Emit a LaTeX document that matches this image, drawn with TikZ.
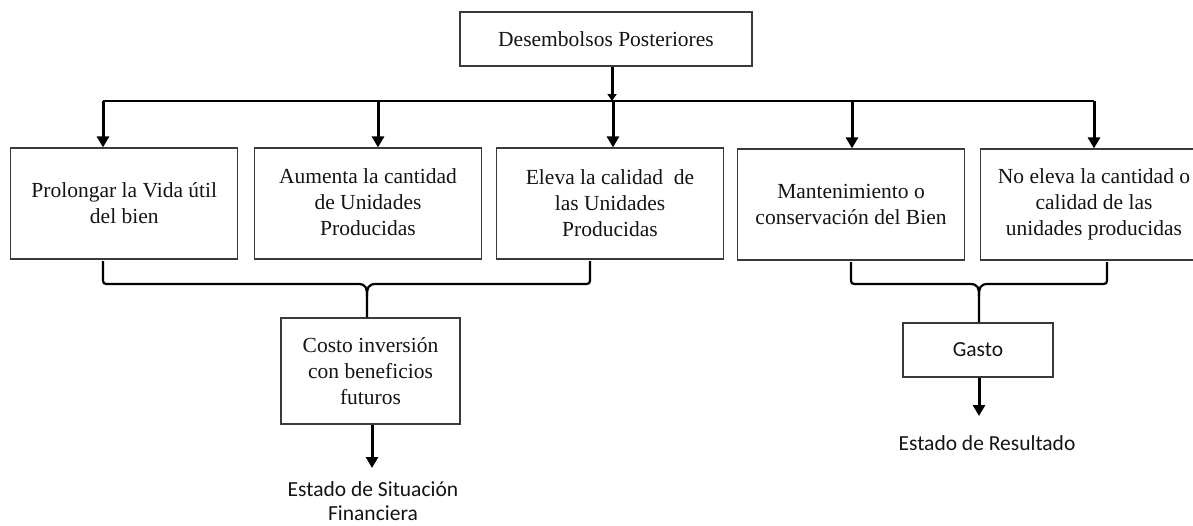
\documentclass[tikz,border=0pt]{standalone}
\usepackage{fontspec}
\setmainfont{Liberation Serif}
\newfontfamily\labelfont{Carlito}
\usetikzlibrary{arrows.meta}
\definecolor{boxgray}{HTML}{3A3A3A}
\definecolor{txt}{HTML}{141414}
\begin{document}
\begin{tikzpicture}[x=1pt,y=-1pt,
  box/.style={draw=boxgray, line width=1.2pt, minimum width=227pt, minimum height=111pt,
    inner sep=0pt, align=center, text=txt, font=\fontsize{21.5}{26}\selectfont},
  lbl/.style={inner sep=0pt, align=center, text=txt, font=\labelfont\fontsize{21.5}{24}\selectfont},
  arr/.style={line width=3pt, -{Triangle[width=12pt,length=11pt]}},
  bus/.style={line width=2.2pt},
  brace/.style={line width=2.2pt}]
\useasboundingbox (0,0) rectangle (1193,525);

% boxes
\node[box, minimum width=292pt, minimum height=54pt] (top) at (606,39) {Desembolsos Posteriores};
\node[box] (b1) at (124.3,203.5) {Prolongar la Vida útil\\del bien};
\node[box] (b2) at (368,203.5) {\raisebox{0pt}[0pt][0pt]{}\\[-14pt]Aumenta la cantidad\\de Unidades\\Producidas};
\node[box] (b3) at (610,203.5) {Eleva la calidad\ \ de\\las Unidades\\Producidas};
\node[box] (b4) at (851,204.5) {Mantenimiento o\\conservación del Bien};
\node[box] (b5) at (1094,204.5) {No eleva la cantidad o\\calidad de las\\unidades producidas};
\node[box, minimum width=179pt, minimum height=106pt] (costo) at (370.5,371) {Costo inversión\\con beneficios\\futuros};
\node[box, minimum width=150pt, minimum height=54pt, font=\labelfont\fontsize{21.5}{26}\selectfont] (gasto) at (978,350) {Gasto};

% labels
\node[lbl] (esf) at (373,501) {Estado de Situación\\Financiera};
\node[lbl] (er) at (987,443) {Estado de Resultado};

% bus
\coordinate (j0) at (612,101);
\coordinate (j1) at (103,101);
\coordinate (j2) at (378,101);
\coordinate (j3) at (613,101);
\coordinate (j4) at (852,101);
\coordinate (j5) at (1094,101);
\draw[line width=3pt, -{Triangle[width=9pt,length=7pt]}] (top.south -| j0) -- (j0);
\draw[bus] (j1) -- (j5);
\draw[arr] (j1) -- (j1 |- b1.north);
\draw[arr] (j2) -- (j2 |- b2.north);
\draw[arr] (j3) -- (j3 |- b3.north);
\draw[arr] (j4) -- (j4 |- b4.north);
\draw[arr] (j5) -- (j5 |- b5.north);

% left brace
\coordinate (la) at (103,261);
\coordinate (lb) at (590,261);
\coordinate (lc) at (367,296);
\draw[brace] (la) -- (103,277) .. controls (103,284) .. (110,284) -- (358,284)
  .. controls (366,284) and (367,288) .. (lc) -- (lc |- costo.north);
\draw[brace] (lb) -- (590,277) .. controls (590,284) .. (583,284) -- (376,284)
  .. controls (368,284) and (367,288) .. (lc);

% right brace
\coordinate (ra) at (851,262);
\coordinate (rb) at (1107,262);
\coordinate (rc) at (979,296);
\draw[brace] (ra) -- (851,277) .. controls (851,284) .. (858,284) -- (970,284)
  .. controls (978,284) and (979,288) .. (rc) -- (rc |- gasto.north);
\draw[brace] (rb) -- (1107,277) .. controls (1107,284) .. (1100,284) -- (988,284)
  .. controls (980,284) and (979,288) .. (rc);

% output arrows
\coordinate (co) at (372,468);
\coordinate (go) at (979,416);
\draw[arr] (costo.south -| co) -- (co);
\draw[arr] (gasto.south -| go) -- (go);
\end{tikzpicture}
\end{document}
